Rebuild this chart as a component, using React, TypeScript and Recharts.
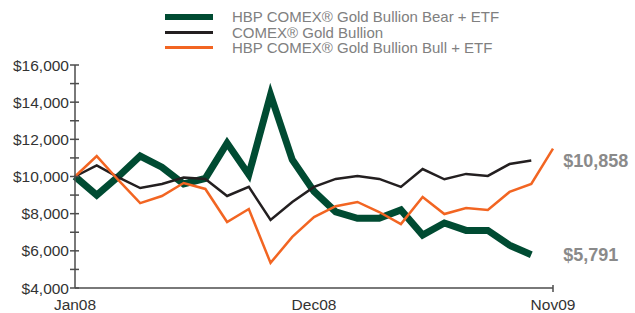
import { LineChart, Line, XAxis, YAxis } from "recharts"

const MONTHS = [
  "Jan08", "Feb08", "Mar08", "Apr08", "May08", "Jun08", "Jul08", "Aug08",
  "Sep08", "Oct08", "Nov08", "Dec08", "Jan09", "Feb09", "Mar09", "Apr09",
  "May09", "Jun09", "Jul09", "Aug09", "Sep09", "Oct09", "Nov09",
]

const BEAR = [
  10000, 9000, 10000, 11100, 10500, 9600, 9900, 11800, 10100, 14400, 10900,
  9200, 8100, 7750, 7750, 8200, 6850, 7500, 7100, 7100, 6300, 5791, null,
]

const GOLD = [
  10000, 10600, 9950, 9380, 9600, 9950, 9870, 8950, 9440, 7660, 8630, 9440,
  9870, 10030, 9870, 9440, 10400, 9850, 10140, 10030, 10670, 10858, null,
]

const BULL = [
  10000, 11100, 9800, 8570, 8950, 9650, 9330, 7550, 8250, 5350, 6750, 7820,
  8400, 8630, 8090, 7440, 8900, 7980, 8300, 8200, 9170, 9600, 11500,
]

const Y_TICKS = [4000, 5000, 6000, 7000, 8000, 9000, 10000, 11000, 12000, 13000, 14000, 15000, 16000]
const X_TICKS = ["Jan08", "Dec08", "Nov09"]

const SERIES = [
  { key: "bear", name: "HBP COMEX® Gold Bullion Bear + ETF", color: "#004b32", width: 7, legendWidth: 6 },
  { key: "gold", name: "COMEX® Gold Bullion", color: "#231f20", width: 2.5, legendWidth: 3 },
  { key: "bull", name: "HBP COMEX® Gold Bullion Bull + ETF", color: "#f26522", width: 2.5, legendWidth: 3 },
]

const data = MONTHS.map((m, i) => ({ month: m, bear: BEAR[i], gold: GOLD[i], bull: BULL[i] }))

const FONT = "'Liberation Sans', Arial, sans-serif"
const AXIS_X = 75

function YTick(props: any) {
  const { y, payload } = props
  const major = payload.value % 2000 === 0
  return (
    <g>
      <line x1={AXIS_X - 5} x2={AXIS_X + 4} y1={y} y2={y} stroke="#4d4d4d" strokeWidth={1.5} />
      {major && (
        <text x={AXIS_X - 6} y={y} dy={5.5} textAnchor="end" fontSize={15.5} fill="#333" fontFamily={FONT}>
          ${payload.value.toLocaleString("en-US")}
        </text>
      )}
    </g>
  )
}

function XTick(props: any) {
  const { x, y, payload, index } = props
  return (
    <g>
      {index === X_TICKS.length - 1 && (
        <line x1={x} x2={x} y1={y - 11} y2={y - 4} stroke="#4d4d4d" strokeWidth={1.5} />
      )}
      <text x={x} y={y} dy={14} textAnchor="middle" fontSize={15.5} fill="#333" fontFamily={FONT}>
        {payload.value}
      </text>
    </g>
  )
}

function EndLabel(props: any) {
  const { x, y, index, value } = props
  if (index !== 21 || value == null) return null
  return (
    <text x={x + 32} y={y} dy={6} fontSize={18} fontWeight="bold" fill="#8a8a8a" fontFamily={FONT}>
      ${Number(value).toLocaleString("en-US")}
    </text>
  )
}

function LegendBox() {
  return (
    <div style={{ position: "absolute", top: 9, left: 165, fontFamily: FONT, fontSize: 15, color: "#808080" }}>
      {SERIES.map((s) => (
        <div key={s.key} style={{ display: "flex", alignItems: "center", height: 15.5 }}>
          <span style={{ width: 48, height: s.legendWidth, background: s.color, marginRight: 19 }} />
          <span style={{ lineHeight: "15px" }}>{s.name}</span>
        </div>
      ))}
    </div>
  )
}

export default function App() {
  return (
    <div style={{ position: "absolute", left: 0, top: 0, width: 635, height: 313, background: "#fff" }}>
      <LineChart width={635} height={313} data={data} margin={{ top: 65, right: 82, bottom: 0, left: 0 }}>
        <XAxis
          dataKey="month"
          ticks={X_TICKS}
          interval={0}
          height={25}
          tickLine={false}
          axisLine={{ stroke: "#4d4d4d", strokeWidth: 1.5 }}
          tick={<XTick />}
        />
        <YAxis
          domain={[4000, 16000]}
          ticks={Y_TICKS}
          interval={0}
          width={75}
          tickLine={false}
          axisLine={{ stroke: "#4d4d4d", strokeWidth: 1.5 }}
          tick={<YTick />}
        />
        {SERIES.map((s) => (
          <Line
            key={s.key}
            dataKey={s.key}
            name={s.name}
            stroke={s.color}
            strokeWidth={s.width}
            dot={false}
            activeDot={false}
            strokeLinejoin="miter"
            isAnimationActive={false}
            label={s.key === "bull" ? false : <EndLabel />}
          />
        ))}
      </LineChart>
      <LegendBox />
    </div>
  )
}
